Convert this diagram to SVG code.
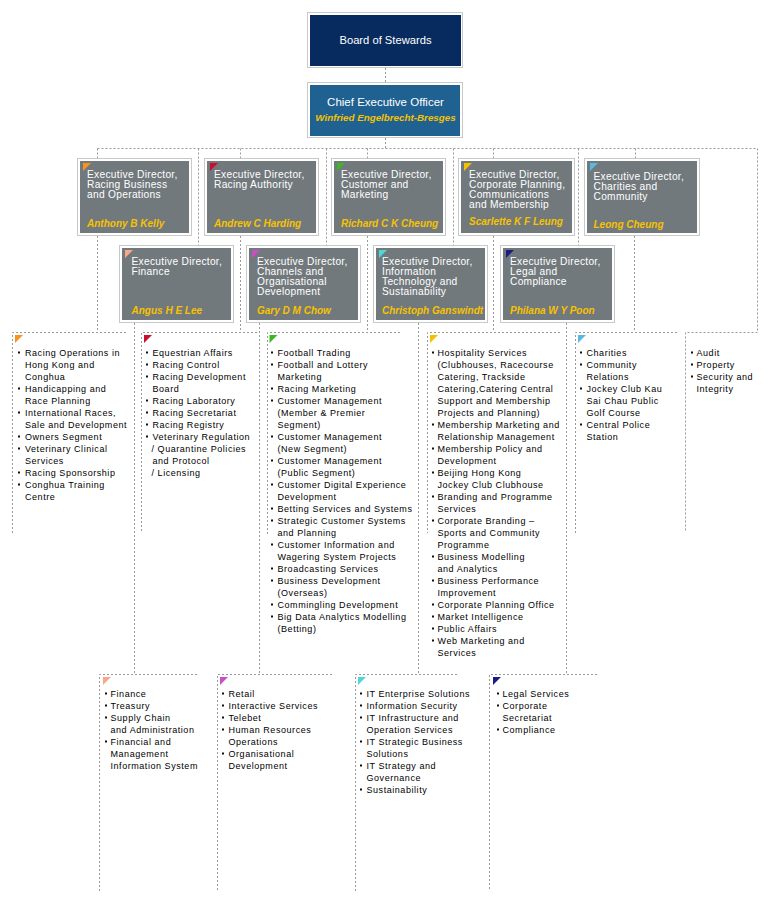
<svg xmlns="http://www.w3.org/2000/svg" width="770" height="900" viewBox="0 0 770 900">
<style>
.ob{fill:#fff;stroke:#c9c9c9;stroke-width:1}
.gb{fill:#72797d}
.t{font-family:"Liberation Sans",Arial,sans-serif;font-size:10.2px;fill:#fff;letter-spacing:0.3px}
.n{font-family:"Liberation Sans",Arial,sans-serif;font-size:10px;font-weight:bold;font-style:italic;fill:#f7c200}
.c{fill:none;stroke:#9a9a9a;stroke-width:1;stroke-dasharray:2 2}
.li{font-family:"Liberation Sans",Arial,sans-serif;font-size:9px;fill:#000;letter-spacing:0.55px}
.bl{fill:#111}
</style>
<rect width="770" height="900" fill="#fff"/>

<g id="connectors">
<path class="c" d="M385.5,68 V82 M385.5,138 V148.5 M97.5,148.5 H757.5 V332.5 H685.5"/>
<path class="c" d="M97.5,148.5 V158 M198.5,148.5 V245 M240.5,148.5 V158 M326.5,148.5 V245 M367.5,148.5 V158 M453.5,148.5 V245 M493.5,148.5 V158 M578.5,148.5 V245 M635.5,148.5 V158"/>
<path class="c" d="M97.5,236 V332 M240.5,236 V332 M367.5,236 V332 M493.5,236 V332 M634.5,236 V332"/>
<path class="c" d="M134.5,323 V674 M259.5,323 V674 M418.5,323 V674 M566.5,323 V674"/>
</g>

<g id="board">
<rect class="ob" x="307.5" y="12.5" width="155" height="55"/>
<rect x="310" y="15" width="151" height="51" fill="#072b5e"/>
<text x="385.5" y="44" text-anchor="middle" font-family="Liberation Sans,Arial,sans-serif" font-size="11.2" fill="#fff">Board of Stewards</text>
</g>

<g id="ceo">
<rect class="ob" x="307.5" y="82.5" width="155" height="55"/>
<rect x="310" y="85" width="150" height="51" fill="#1f6190"/>
<text x="385.5" y="106" text-anchor="middle" font-family="Liberation Sans,Arial,sans-serif" font-size="11.5" fill="#fff">Chief Executive Officer</text>
<text x="385.5" y="121" text-anchor="middle" font-family="Liberation Sans,Arial,sans-serif" font-size="9.8" font-weight="bold" font-style="italic" fill="#f7c200">Winfried Engelbrecht-Bresges</text>
</g>

<g id="ed-racing-business">
<rect class="ob" x="77.5" y="158.5" width="114" height="77"/>
<rect class="gb" x="80" y="161" width="109" height="72"/>
<polygon points="83,163 91,163 83,171" fill="#f7941d"/>
<text class="t" x="87" y="178">Executive Director,<tspan x="87" dy="10">Racing Business</tspan><tspan x="87" dy="10">and Operations</tspan></text>
<text class="n" x="87" y="227">Anthony B Kelly</text>
</g>

<g id="ed-racing-authority">
<rect class="ob" x="204.5" y="158.5" width="114" height="77"/>
<rect class="gb" x="207" y="161" width="109" height="72"/>
<polygon points="210,163 218,163 210,171" fill="#c8102e"/>
<text class="t" x="214" y="178">Executive Director,<tspan x="214" dy="10">Racing Authority</tspan></text>
<text class="n" x="214" y="227">Andrew C Harding</text>
</g>

<g id="ed-customer">
<rect class="ob" x="331.5" y="158.5" width="114" height="77"/>
<rect class="gb" x="334" y="161" width="109" height="72"/>
<polygon points="337,163 345,163 337,171" fill="#3cb920"/>
<text class="t" x="341" y="178">Executive Director,<tspan x="341" dy="10">Customer and</tspan><tspan x="341" dy="10">Marketing</tspan></text>
<text class="n" x="341" y="227">Richard C K Cheung</text>
</g>

<g id="ed-corporate">
<rect class="ob" x="458.5" y="158.5" width="116" height="77"/>
<rect class="gb" x="461" y="161" width="111" height="72"/>
<polygon points="464,163 472,163 464,171" fill="#f5c000"/>
<text class="t" x="469" y="178">Executive Director,<tspan x="469" dy="10">Corporate Planning,</tspan><tspan x="469" dy="10">Communications</tspan><tspan x="469" dy="10">and Membership</tspan></text>
<text class="n" x="469" y="225">Scarlette K F Leung</text>
</g>

<g id="ed-charities">
<rect class="ob" x="584.5" y="158.5" width="115" height="77"/>
<rect class="gb" x="587" y="161" width="110" height="72"/>
<polygon points="590,163 598,163 590,171" fill="#5bb8e0"/>
<text class="t" x="593.5" y="180">Executive Director,<tspan x="593.5" dy="10">Charities and</tspan><tspan x="593.5" dy="10">Community</tspan></text>
<text class="n" x="593.5" y="228">Leong Cheung</text>
</g>

<g id="ed-finance">
<rect class="ob" x="119.5" y="245.5" width="114" height="77"/>
<rect class="gb" x="122" y="248" width="109" height="72"/>
<polygon points="125,250 133,250 125,258" fill="#f5a98a"/>
<text class="t" x="131.5" y="265">Executive Director,<tspan x="131.5" dy="10">Finance</tspan></text>
<text class="n" x="131.5" y="314">Angus H E Lee</text>
</g>

<g id="ed-channels">
<rect class="ob" x="246.5" y="245.5" width="114" height="77"/>
<rect class="gb" x="249" y="248" width="109" height="72"/>
<polygon points="252,250 260,250 252,258" fill="#c94fc9"/>
<text class="t" x="257" y="265">Executive Director,<tspan x="257" dy="10">Channels and</tspan><tspan x="257" dy="10">Organisational</tspan><tspan x="257" dy="10">Development</tspan></text>
<text class="n" x="257" y="314">Gary D M Chow</text>
</g>

<g id="ed-it">
<rect class="ob" x="373.5" y="245.5" width="114" height="77"/>
<rect class="gb" x="376" y="248" width="109" height="72"/>
<polygon points="379,250 387,250 379,258" fill="#4fd6d8"/>
<text class="t" x="382" y="265">Executive Director,<tspan x="382" dy="10">Information</tspan><tspan x="382" dy="10">Technology and</tspan><tspan x="382" dy="10">Sustainability</tspan></text>
<text class="n" x="382" y="314">Christoph Ganswindt</text>
</g>

<g id="ed-legal">
<rect class="ob" x="500.5" y="245.5" width="114" height="77"/>
<rect class="gb" x="503" y="248" width="109" height="72"/>
<polygon points="506,250 514,250 506,258" fill="#1c1c85"/>
<text class="t" x="510" y="265">Executive Director,<tspan x="510" dy="10">Legal and</tspan><tspan x="510" dy="10">Compliance</tspan></text>
<text class="n" x="510" y="314">Philana W Y Poon</text>
</g>

<g id="col-racing-business">
<path class="c" d="M126,332.5 H12.5 V533"/>
<polygon points="15,335 23,335 15,343" fill="#f7941d"/>
<rect class="bl" x="18" y="351.5" width="2" height="2"/><rect class="bl" x="18" y="387.5" width="2" height="2"/><rect class="bl" x="18" y="411.5" width="2" height="2"/><rect class="bl" x="18" y="435.5" width="2" height="2"/><rect class="bl" x="18" y="447.5" width="2" height="2"/><rect class="bl" x="18" y="471.5" width="2" height="2"/><rect class="bl" x="18" y="483.5" width="2" height="2"/>
<text class="li" y="356"><tspan x="25">Racing Operations in</tspan><tspan x="25" dy="12">Hong Kong and</tspan><tspan x="25" dy="12">Conghua</tspan><tspan x="25" dy="12">Handicapping and</tspan><tspan x="25" dy="12">Race Planning</tspan><tspan x="25" dy="12">International Races,</tspan><tspan x="25" dy="12">Sale and Development</tspan><tspan x="25" dy="12">Owners Segment</tspan><tspan x="25" dy="12">Veterinary Clinical</tspan><tspan x="25" dy="12">Services</tspan><tspan x="25" dy="12">Racing Sponsorship</tspan><tspan x="25" dy="12">Conghua Training</tspan><tspan x="25" dy="12">Centre</tspan></text>
</g>

<g id="col-racing-authority">
<path class="c" d="M257,332.5 H141.5 V533"/>
<polygon points="144,335 152,335 144,343" fill="#c8102e"/>
<rect class="bl" x="146" y="351.5" width="2" height="2"/><rect class="bl" x="146" y="363.5" width="2" height="2"/><rect class="bl" x="146" y="375.5" width="2" height="2"/><rect class="bl" x="146" y="399.5" width="2" height="2"/><rect class="bl" x="146" y="411.5" width="2" height="2"/><rect class="bl" x="146" y="423.5" width="2" height="2"/><rect class="bl" x="146" y="435.5" width="2" height="2"/>
<text class="li" y="356"><tspan x="152.5">Equestrian Affairs</tspan><tspan x="152.5" dy="12">Racing Control</tspan><tspan x="152.5" dy="12">Racing Development</tspan><tspan x="152.5" dy="12">Board</tspan><tspan x="152.5" dy="12">Racing Laboratory</tspan><tspan x="152.5" dy="12">Racing Secretariat</tspan><tspan x="152.5" dy="12">Racing Registry</tspan><tspan x="152.5" dy="12">Veterinary Regulation</tspan><tspan x="151.5" dy="12">/ Quarantine Policies</tspan><tspan x="152.5" dy="12">and Protocol</tspan><tspan x="151.5" dy="12">/ Licensing</tspan></text>
</g>

<g id="col-customer">
<path class="c" d="M400,332.5 H267.5 V535"/>
<polygon points="269.5,335 277.5,335 269.5,343" fill="#3cb920"/>
<rect class="bl" x="271" y="351.5" width="2" height="2"/><rect class="bl" x="271" y="363.5" width="2" height="2"/><rect class="bl" x="271" y="387.5" width="2" height="2"/><rect class="bl" x="271" y="399.5" width="2" height="2"/><rect class="bl" x="271" y="435.5" width="2" height="2"/><rect class="bl" x="271" y="459.5" width="2" height="2"/><rect class="bl" x="271" y="483.5" width="2" height="2"/><rect class="bl" x="271" y="507.5" width="2" height="2"/><rect class="bl" x="271" y="519.5" width="2" height="2"/><rect class="bl" x="271" y="543.5" width="2" height="2"/><rect class="bl" x="271" y="567.5" width="2" height="2"/><rect class="bl" x="271" y="579.5" width="2" height="2"/><rect class="bl" x="271" y="603.5" width="2" height="2"/><rect class="bl" x="271" y="615.5" width="2" height="2"/>
<text class="li" y="356"><tspan x="277.5">Football Trading</tspan><tspan x="277.5" dy="12">Football and Lottery</tspan><tspan x="277.5" dy="12">Marketing</tspan><tspan x="277.5" dy="12">Racing Marketing</tspan><tspan x="277.5" dy="12">Customer Management</tspan><tspan x="277.5" dy="12">(Member &amp; Premier</tspan><tspan x="277.5" dy="12">Segment)</tspan><tspan x="277.5" dy="12">Customer Management</tspan><tspan x="277.5" dy="12">(New Segment)</tspan><tspan x="277.5" dy="12">Customer Management</tspan><tspan x="277.5" dy="12">(Public Segment)</tspan><tspan x="277.5" dy="12">Customer Digital Experience</tspan><tspan x="277.5" dy="12">Development</tspan><tspan x="277.5" dy="12">Betting Services and Systems</tspan><tspan x="277.5" dy="12">Strategic Customer Systems</tspan><tspan x="277.5" dy="12">and Planning</tspan><tspan x="277.5" dy="12">Customer Information and</tspan><tspan x="277.5" dy="12">Wagering System Projects</tspan><tspan x="277.5" dy="12">Broadcasting Services</tspan><tspan x="277.5" dy="12">Business Development</tspan><tspan x="277.5" dy="12">(Overseas)</tspan><tspan x="277.5" dy="12">Commingling Development</tspan><tspan x="277.5" dy="12">Big Data Analytics Modelling</tspan><tspan x="277.5" dy="12">(Betting)</tspan></text>
</g>

<g id="col-corporate">
<path class="c" d="M560,332.5 H427.5 V533"/>
<polygon points="430,335 438,335 430,343" fill="#f5c000"/>
<rect class="bl" x="432" y="351.5" width="2" height="2"/><rect class="bl" x="432" y="423.5" width="2" height="2"/><rect class="bl" x="432" y="447.5" width="2" height="2"/><rect class="bl" x="432" y="471.5" width="2" height="2"/><rect class="bl" x="432" y="495.5" width="2" height="2"/><rect class="bl" x="432" y="519.5" width="2" height="2"/><rect class="bl" x="432" y="555.5" width="2" height="2"/><rect class="bl" x="432" y="579.5" width="2" height="2"/><rect class="bl" x="432" y="603.5" width="2" height="2"/><rect class="bl" x="432" y="615.5" width="2" height="2"/><rect class="bl" x="432" y="627.5" width="2" height="2"/><rect class="bl" x="432" y="639.5" width="2" height="2"/>
<text class="li" y="356"><tspan x="437.5">Hospitality Services</tspan><tspan x="437.5" dy="12">(Clubhouses, Racecourse</tspan><tspan x="437.5" dy="12">Catering, Trackside</tspan><tspan x="437.5" dy="12">Catering,Catering Central</tspan><tspan x="437.5" dy="12">Support and Membership</tspan><tspan x="437.5" dy="12">Projects and Planning)</tspan><tspan x="437.5" dy="12">Membership Marketing and</tspan><tspan x="437.5" dy="12">Relationship Management</tspan><tspan x="437.5" dy="12">Membership Policy and</tspan><tspan x="437.5" dy="12">Development</tspan><tspan x="437.5" dy="12">Beijing Hong Kong</tspan><tspan x="437.5" dy="12">Jockey Club Clubhouse</tspan><tspan x="437.5" dy="12">Branding and Programme</tspan><tspan x="437.5" dy="12">Services</tspan><tspan x="437.5" dy="12">Corporate Branding –</tspan><tspan x="437.5" dy="12">Sports and Community</tspan><tspan x="437.5" dy="12">Programme</tspan><tspan x="437.5" dy="12">Business Modelling</tspan><tspan x="437.5" dy="12">and Analytics</tspan><tspan x="437.5" dy="12">Business Performance</tspan><tspan x="437.5" dy="12">Improvement</tspan><tspan x="437.5" dy="12">Corporate Planning Office</tspan><tspan x="437.5" dy="12">Market Intelligence</tspan><tspan x="437.5" dy="12">Public Affairs</tspan><tspan x="437.5" dy="12">Web Marketing and</tspan><tspan x="437.5" dy="12">Services</tspan></text>
</g>

<g id="col-charities">
<path class="c" d="M677,332.5 H575.5 V533"/>
<polygon points="578,335 586,335 578,343" fill="#5bb8e0"/>
<rect class="bl" x="580" y="351.5" width="2" height="2"/><rect class="bl" x="580" y="363.5" width="2" height="2"/><rect class="bl" x="580" y="387.5" width="2" height="2"/><rect class="bl" x="580" y="423.5" width="2" height="2"/>
<text class="li" y="356"><tspan x="586.5">Charities</tspan><tspan x="586.5" dy="12">Community</tspan><tspan x="586.5" dy="12">Relations</tspan><tspan x="586.5" dy="12">Jockey Club Kau</tspan><tspan x="586.5" dy="12">Sai Chau Public</tspan><tspan x="586.5" dy="12">Golf Course</tspan><tspan x="586.5" dy="12">Central Police</tspan><tspan x="586.5" dy="12">Station</tspan></text>
</g>

<g id="col-audit">
<path class="c" d="M685.5,332.5 V532"/>
<rect class="bl" x="691" y="351.5" width="2" height="2"/><rect class="bl" x="691" y="363.5" width="2" height="2"/><rect class="bl" x="691" y="375.5" width="2" height="2"/>
<text class="li" y="356"><tspan x="696.5">Audit</tspan><tspan x="696.5" dy="12">Property</tspan><tspan x="696.5" dy="12">Security and</tspan><tspan x="696.5" dy="12">Integrity</tspan></text>
</g>

<g id="col-finance">
<path class="c" d="M197,674.5 H99.5 V891"/>
<polygon points="103,677 111,677 103,685" fill="#f5a98a"/>
<rect class="bl" x="105" y="692.5" width="2" height="2"/><rect class="bl" x="105" y="704.5" width="2" height="2"/><rect class="bl" x="105" y="716.5" width="2" height="2"/><rect class="bl" x="105" y="740.5" width="2" height="2"/>
<text class="li" y="697"><tspan x="110.5">Finance</tspan><tspan x="110.5" dy="12">Treasury</tspan><tspan x="110.5" dy="12">Supply Chain</tspan><tspan x="110.5" dy="12">and Administration</tspan><tspan x="110.5" dy="12">Financial and</tspan><tspan x="110.5" dy="12">Management</tspan><tspan x="110.5" dy="12">Information System</tspan></text>
</g>

<g id="col-channels">
<path class="c" d="M332,674.5 H217.5 V891"/>
<polygon points="220,677 228,677 220,685" fill="#c94fc9"/>
<rect class="bl" x="222" y="692.5" width="2" height="2"/><rect class="bl" x="222" y="704.5" width="2" height="2"/><rect class="bl" x="222" y="716.5" width="2" height="2"/><rect class="bl" x="222" y="728.5" width="2" height="2"/><rect class="bl" x="222" y="752.5" width="2" height="2"/>
<text class="li" y="697"><tspan x="228.5">Retail</tspan><tspan x="228.5" dy="12">Interactive Services</tspan><tspan x="228.5" dy="12">Telebet</tspan><tspan x="228.5" dy="12">Human Resources</tspan><tspan x="228.5" dy="12">Operations</tspan><tspan x="228.5" dy="12">Organisational</tspan><tspan x="228.5" dy="12">Development</tspan></text>
</g>

<g id="col-it">
<path class="c" d="M457,674.5 H355.5 V891"/>
<polygon points="358,677 366,677 358,685" fill="#4fd6d8"/>
<rect class="bl" x="360" y="692.5" width="2" height="2"/><rect class="bl" x="360" y="704.5" width="2" height="2"/><rect class="bl" x="360" y="716.5" width="2" height="2"/><rect class="bl" x="360" y="740.5" width="2" height="2"/><rect class="bl" x="360" y="764.5" width="2" height="2"/><rect class="bl" x="360" y="788.5" width="2" height="2"/>
<text class="li" y="697"><tspan x="366.5">IT Enterprise Solutions</tspan><tspan x="366.5" dy="12">Information Security</tspan><tspan x="366.5" dy="12">IT Infrastructure and</tspan><tspan x="366.5" dy="12">Operation Services</tspan><tspan x="366.5" dy="12">IT Strategic Business</tspan><tspan x="366.5" dy="12">Solutions</tspan><tspan x="366.5" dy="12">IT Strategy and</tspan><tspan x="366.5" dy="12">Governance</tspan><tspan x="366.5" dy="12">Sustainability</tspan></text>
</g>

<g id="col-legal">
<path class="c" d="M597,674.5 H489.5 V891"/>
<polygon points="493,677 501,677 493,685" fill="#1c1c85"/>
<rect class="bl" x="497" y="692.5" width="2" height="2"/><rect class="bl" x="497" y="704.5" width="2" height="2"/><rect class="bl" x="497" y="728.5" width="2" height="2"/>
<text class="li" y="697"><tspan x="502.5">Legal Services</tspan><tspan x="502.5" dy="12">Corporate</tspan><tspan x="502.5" dy="12">Secretariat</tspan><tspan x="502.5" dy="12">Compliance</tspan></text>
</g>
</svg>
